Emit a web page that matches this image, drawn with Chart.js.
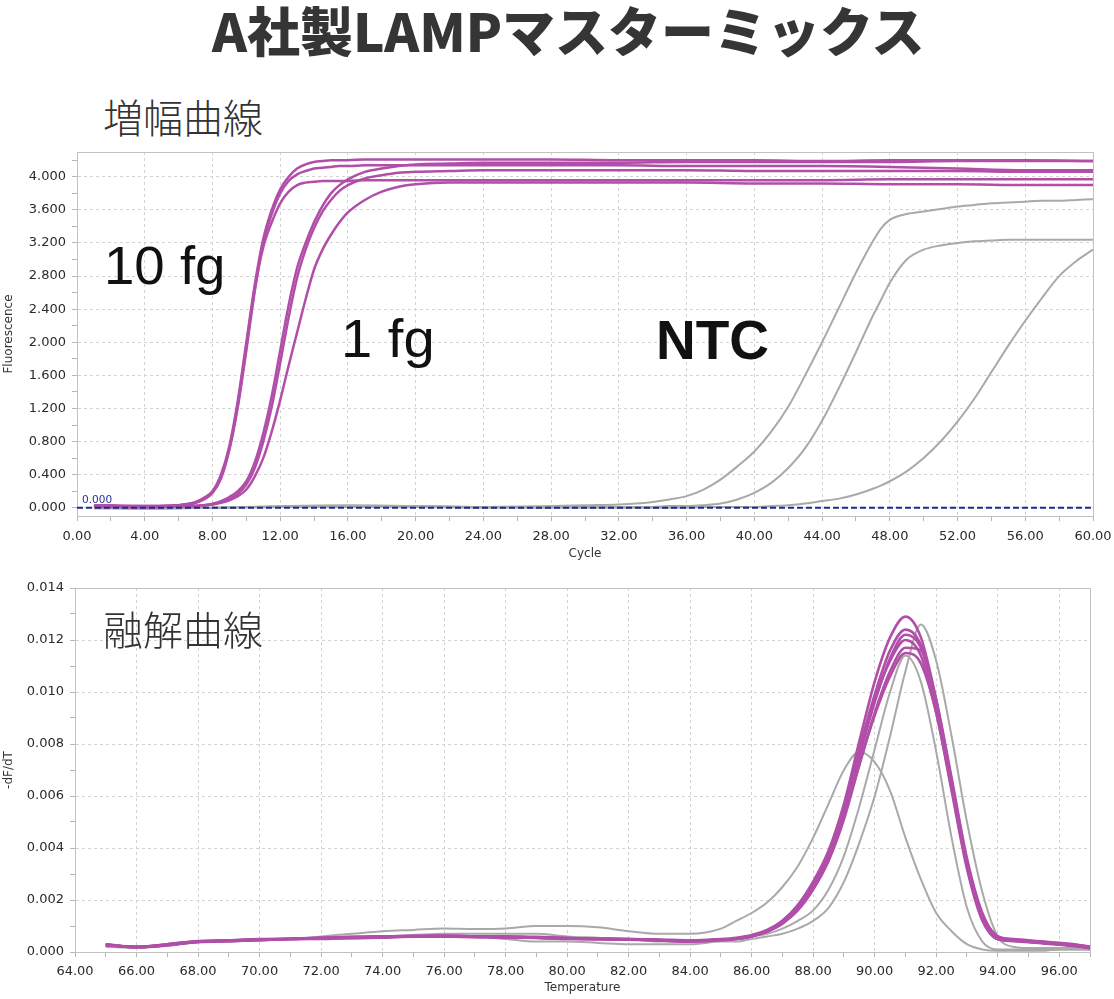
<!DOCTYPE html>
<html><head><meta charset="utf-8">
<script src="https://cdn.jsdelivr.net/npm/chart.js@4.4.1/dist/chart.umd.min.js"></script>
<style>
html,body{margin:0;padding:0;background:#fff;}
body{width:1114px;height:999px;position:relative;overflow:hidden;}
.t{position:absolute;white-space:nowrap;line-height:1;}
#title{left:212px;top:3px;font-family:"Noto Sans CJK JP";font-weight:900;font-size:53px;color:#353535;}
.sub{font-family:"Noto Sans CJK JP";font-weight:300;font-size:40px;color:#333;}
.big{font-family:"Liberation Sans",Arial,sans-serif;font-size:53px;color:#111;transform-origin:0 0;}
.box{position:absolute;left:0;width:1114px;}
#thr{left:82px;top:494px;font-family:"DejaVu Sans";font-size:10.5px;color:#25339a;}
</style></head><body>
<div class="t" id="title">A社製LAMPマスターミックス</div>
<div class="t sub" style="left:103px;top:96px;">増幅曲線</div>
<div class="box" style="top:140px;height:425px;"><canvas id="amp" width="1114" height="425"></canvas></div>
<div class="box" style="top:575px;height:424px;"><canvas id="melt" width="1114" height="424"></canvas></div>
<div class="t sub" style="left:103px;top:608px;">融解曲線</div>
<div class="t big" style="left:104px;top:239px;transform:scaleX(1.03);">10 fg</div>
<div class="t big" style="left:341px;top:312px;transform:scaleX(1.06);">1 fg</div>
<div class="t big" style="left:656px;top:313px;font-weight:bold;font-size:55px;">NTC</div>
<div class="t" id="thr">0.000</div>
<script>
// ---------- amplification data ----------
const ampCycles = [1,2,3,4,5,6,7,7.5,8,8.5,9,9.5,10,10.5,11,11.5,12,12.5,13,13.5,14,14.5,15,15.5,16,17,18,19,20,22,24,28,32,36,40,44,48,52,56,60];
const fg10_a = [0.03,0.03,0.02,0.02,0.02,0.03,0.07,0.12,0.2,0.4,0.75,1.3,2.0,2.7,3.25,3.6,3.85,4.0,4.1,4.15,4.18,4.19,4.2,4.2,4.2,4.21,4.21,4.21,4.21,4.21,4.21,4.21,4.2,4.2,4.2,4.19,4.2,4.2,4.2,4.19];
const fg10_b = [0.02,0.02,0.02,0.01,0.02,0.03,0.06,0.1,0.18,0.35,0.7,1.22,1.9,2.62,3.2,3.55,3.8,3.95,4.03,4.07,4.1,4.11,4.12,4.13,4.13,4.14,4.14,4.14,4.14,4.14,4.14,4.14,4.14,4.13,4.13,4.13,4.12,4.1,4.08,4.08];
const fg10_c = [0.03,0.02,0.02,0.02,0.02,0.03,0.06,0.11,0.19,0.38,0.72,1.25,1.95,2.65,3.15,3.45,3.68,3.82,3.9,3.93,3.94,3.95,3.95,3.95,3.95,3.96,3.96,3.96,3.96,3.96,3.96,3.96,3.96,3.96,3.96,3.96,3.97,3.97,3.97,3.97];
const fg1_a = [0.02,0.02,0.01,0.01,0.01,0.02,0.02,0.03,0.05,0.08,0.13,0.2,0.32,0.55,0.9,1.35,1.9,2.45,2.9,3.2,3.45,3.65,3.8,3.9,3.97,4.06,4.1,4.13,4.15,4.16,4.17,4.17,4.17,4.18,4.18,4.18,4.18,4.19,4.19,4.19];
const fg1_b = [0.01,0.01,0.01,0.01,0.01,0.02,0.02,0.03,0.04,0.07,0.11,0.17,0.28,0.48,0.8,1.22,1.75,2.3,2.78,3.12,3.38,3.58,3.72,3.83,3.9,3.98,4.02,4.05,4.06,4.07,4.08,4.08,4.08,4.08,4.07,4.07,4.07,4.07,4.06,4.06];
const fg1_c = [0.02,0.02,0.01,0.01,0.01,0.02,0.02,0.03,0.04,0.06,0.09,0.14,0.22,0.38,0.6,0.92,1.3,1.72,2.12,2.52,2.88,3.12,3.3,3.45,3.57,3.72,3.82,3.88,3.91,3.93,3.93,3.93,3.93,3.93,3.92,3.92,3.91,3.91,3.9,3.9];

const ntcCycles = [1,4,8,12,16,20,24,28,30,32,33,34,35,36,37,38,39,40,41,42,43,44,45,46,47,47.5,48,49,50,51,52,53,54,55,56,57,58,59,60];
const ntc_1 = [0.0,-0.01,0.0,0.02,0.03,0.02,0.01,0.02,0.03,0.04,0.05,0.07,0.1,0.14,0.22,0.34,0.5,0.68,0.92,1.22,1.6,2.0,2.42,2.84,3.22,3.38,3.48,3.55,3.58,3.61,3.64,3.66,3.68,3.69,3.7,3.71,3.71,3.72,3.73];
const ntc_2 = [-0.01,-0.01,0.0,0.01,0.02,0.02,0.01,0.01,0.01,0.01,0.01,0.01,0.02,0.02,0.03,0.05,0.1,0.18,0.3,0.48,0.72,1.05,1.45,1.88,2.32,2.52,2.72,3.0,3.12,3.17,3.2,3.22,3.23,3.24,3.24,3.24,3.24,3.24,3.24];
const ntc_3 = [0.0,-0.01,0.0,0.01,0.01,0.01,0.0,0.0,0.0,0.0,0.0,0.0,0.0,0.0,0.01,0.01,0.01,0.01,0.02,0.03,0.05,0.08,0.11,0.16,0.23,0.27,0.32,0.44,0.6,0.8,1.04,1.32,1.64,1.96,2.26,2.54,2.8,2.98,3.12];

const thresholdCycles = [0, 60];
const thresholdValues = [0, 0];

const ampXTicks = [0,4,8,12,16,20,24,28,32,36,40,44,48,52,56,60];
const ampYTicks = [0,0.4,0.8,1.2,1.6,2.0,2.4,2.8,3.2,3.6,4.0];

// ---------- melt data ----------
const meltTemps = [65,66,67,68,69,70,71,72,73,74,75,76,77,78,79,80,81,82,83,84,85,85.5,86,86.5,87,87.5,88,88.5,89,89.5,90,90.5,91,91.5,92,92.5,93,93.5,94,94.5,95,95.5,96,96.5,97];
const mag_1 = [0.0003,0.00018,0.00025,0.0004,0.00042,0.00045,0.0005,0.0005,0.00055,0.00055,0.0006,0.0006,0.00058,0.00055,0.00055,0.0005,0.0005,0.0005,0.00045,0.0004,0.00045,0.0005,0.0006,0.0008,0.0012,0.0018,0.0027,0.0039,0.0057,0.0081,0.0104,0.0121,0.0129,0.0121,0.0097,0.0065,0.0034,0.0013,0.0005,0.00045,0.0004,0.00035,0.0003,0.00025,0.00015];
const mag_2 = [0.00025,0.0002,0.0003,0.00042,0.00045,0.0005,0.0005,0.00055,0.00055,0.0006,0.0006,0.00062,0.0006,0.0006,0.00058,0.00055,0.0005,0.0005,0.00048,0.00045,0.0005,0.00055,0.00065,0.00085,0.0012,0.0018,0.0027,0.0038,0.0055,0.0078,0.0099,0.0116,0.0124,0.0118,0.0095,0.0064,0.0034,0.0013,0.0005,0.00045,0.0004,0.00035,0.0003,0.00025,0.0002];
const mag_3 = [0.0003,0.0002,0.00028,0.0004,0.00043,0.00048,0.00052,0.00055,0.00058,0.0006,0.00062,0.0006,0.00058,0.00058,0.00055,0.00052,0.0005,0.00048,0.00045,0.00042,0.00048,0.00052,0.00062,0.0008,0.0011,0.0017,0.0025,0.0036,0.0053,0.0075,0.0096,0.0113,0.0122,0.0117,0.0096,0.0066,0.0035,0.0014,0.0006,0.0005,0.00045,0.0004,0.00035,0.0003,0.0002];
const mag_4 = [0.00028,0.00018,0.00026,0.00038,0.00042,0.00046,0.0005,0.00053,0.00056,0.00058,0.0006,0.00061,0.00059,0.00056,0.00054,0.00052,0.00049,0.00047,0.00044,0.00041,0.00046,0.0005,0.0006,0.0008,0.00115,0.0018,0.0026,0.0038,0.0055,0.0077,0.0097,0.0112,0.012,0.0114,0.0092,0.0062,0.0032,0.0012,0.0005,0.00042,0.00038,0.00033,0.00028,0.00022,0.00015];
const mag_5 = [0.00026,0.0002,0.0003,0.00041,0.00044,0.00047,0.00051,0.00054,0.00057,0.00059,0.00061,0.00063,0.0006,0.00057,0.00056,0.00053,0.00051,0.00049,0.00046,0.00043,0.00047,0.00051,0.00061,0.00078,0.0011,0.0016,0.0024,0.0035,0.0051,0.0072,0.0092,0.0108,0.0117,0.0116,0.0097,0.0067,0.0036,0.0015,0.0006,0.00048,0.00043,0.00038,0.00032,0.00026,0.00018];
const mag_6 = [0.00029,0.00019,0.00027,0.00039,0.00043,0.00046,0.00049,0.00052,0.00055,0.00057,0.00059,0.0006,0.00058,0.00057,0.00055,0.00051,0.0005,0.00048,0.00046,0.00043,0.00047,0.00052,0.00062,0.0008,0.0011,0.0017,0.0025,0.0036,0.0052,0.0072,0.0091,0.0106,0.0115,0.0111,0.0092,0.0063,0.0033,0.0013,0.0005,0.00044,0.0004,0.00035,0.0003,0.00024,0.00017];
const ntcMelt_1 = [0.0002,0.00015,0.0003,0.0004,0.00045,0.0005,0.0005,0.0006,0.0007,0.0008,0.00085,0.0009,0.00088,0.0009,0.001,0.001,0.00095,0.0008,0.0007,0.0007,0.0009,0.0012,0.0015,0.0019,0.0025,0.0033,0.0044,0.0057,0.007,0.0077,0.0073,0.0062,0.0044,0.0028,0.0015,0.0008,0.0003,0.0001,0.00005,0.00005,0.00005,0.00005,0.0001,0.0001,0.0001];
const ntcMelt_2 = [0.0002,0.0002,0.0003,0.0004,0.0004,0.00045,0.0005,0.0005,0.0005,0.00055,0.0006,0.0006,0.0006,0.0005,0.0004,0.0004,0.00035,0.0003,0.0003,0.0003,0.0004,0.0004,0.0005,0.0006,0.0007,0.0009,0.0012,0.0017,0.0027,0.0042,0.006,0.0083,0.0108,0.0126,0.0112,0.0083,0.005,0.0023,0.0006,0.0002,0.00015,0.00015,0.00015,0.00015,0.0002];
const ntcMelt_3 = [0.00025,0.0002,0.0003,0.0004,0.00045,0.0005,0.0005,0.00055,0.0006,0.0006,0.00065,0.0007,0.0007,0.0007,0.0007,0.0006,0.00055,0.0005,0.0004,0.0004,0.0005,0.0005,0.0006,0.0007,0.0009,0.0012,0.0016,0.0024,0.0037,0.0056,0.0078,0.01,0.0114,0.0104,0.0077,0.0044,0.0017,0.0004,0.0001,0.0001,0.0001,0.0001,0.0001,0.0001,0.0001];

const meltXTicks = [64,66,68,70,72,74,76,78,80,82,84,86,88,90,92,94,96];
const meltYTicks = [0,0.002,0.004,0.006,0.008,0.010,0.012,0.014];

// ---------- styling helpers ----------
const MAG = '#b14ea8', GRAY = '#a9a9a9', NAVY = '#1d2b8c';
const GRID = '#d3d3d3', FRAME = '#c2c2c2', TICKC = '#b5b5b5', LABEL = '#2a2a2a';
const TICKFONT = {family: 'DejaVu Sans', size: 13};
const TITLEFONT = {family: 'DejaVu Sans', size: 12};

function pts(xs, ys){ return xs.map((x,i)=>({x:x, y:ys[i]})); }
function withMinors(majors){
  const out = [];
  for (let i=0;i<majors.length;i++){
    out.push(majors[i]);
    if (i<majors.length-1) out.push((majors[i]+majors[i+1])/2);
  }
  return out;
}
function isIn(v, arr){ return arr.some(a=>Math.abs(a-v)<1e-9); }
function axis(majors, extraMinors, fmt, min, max, size, isX, title, pad){
  const all = withMinors(majors).concat(extraMinors);
  return {
    type: 'linear', min: min, max: max,
    afterBuildTicks: (s)=>{ s.ticks = all.map(v=>({value:v})); },
    afterFit: (s)=>{
      if (isX) { s.height = size; s.paddingLeft = 0; s.paddingRight = 0; }
      else { s.width = size; s.paddingTop = 0; s.paddingBottom = 0; }
    },
    ticks: {
      autoSkip: false, maxRotation: 0, minRotation: 0, padding: pad, color: LABEL, font: TICKFONT,
      callback: (v)=> isIn(v, majors) ? Number(v).toFixed(fmt) : ''
    },
    grid: {
      drawTicks: true, tickLength: 5, tickColor: TICKC, tickBorderDash: [],
      color: (c)=> (c.tick && isIn(c.tick.value, majors)) ? GRID : 'rgba(0,0,0,0)',
      lineWidth: 1
    },
    border: {display: true, color: FRAME, width: 1, dash: [3,3]},
    title: {display: true, text: title, color: '#333', font: TITLEFONT, padding: {top: 2, bottom: 4}}
  };
}
const framePlugin = {
  id: 'frame',
  beforeDatasetsDraw(chart){
    const a = chart.chartArea, ctx = chart.ctx;
    ctx.save(); ctx.strokeStyle = FRAME; ctx.lineWidth = 1; ctx.setLineDash([]);
    ctx.strokeRect(Math.round(a.left)+0.5, Math.round(a.top)+0.5, Math.round(a.right-a.left), Math.round(a.bottom-a.top));
    ctx.restore();
  }
};
function line(data, color, w, extra){
  return Object.assign({data: data, borderColor: color, borderWidth: w, pointRadius: 0, fill: false,
    cubicInterpolationMode: 'monotone', tension: 0.4}, extra||{});
}

// ---------- amplification chart ----------
new Chart(document.getElementById('amp'), {
  type: 'line',
  data: { datasets: [
    line(pts(thresholdCycles, thresholdValues), NAVY, 2, {borderDash: [6,3], cubicInterpolationMode: 'default', tension: 0}),
    line(pts(ampCycles, fg10_a), MAG, 2.5),
    line(pts(ampCycles, fg10_b), MAG, 2.5),
    line(pts(ampCycles, fg10_c), MAG, 2.5),
    line(pts(ampCycles, fg1_a), MAG, 2.5),
    line(pts(ampCycles, fg1_b), MAG, 2.5),
    line(pts(ampCycles, fg1_c), MAG, 2.5),
    line(pts(ntcCycles, ntc_1), GRAY, 2),
    line(pts(ntcCycles, ntc_2), GRAY, 2),
    line(pts(ntcCycles, ntc_3), GRAY, 2)
  ]},
  options: {
    responsive: false, animation: false, devicePixelRatio: 1,
    layout: {padding: {top: 12, right: 21, left: 0, bottom: 0}},
    plugins: {legend: {display: false}, tooltip: {enabled: false}},
    scales: {
      x: axis(ampXTicks, [], 2, 0, 60, 49, true, 'Cycle', 8),
      y: axis(ampYTicks, [4.2], 3, -0.1, 4.3, 77, false, 'Fluorescence', 6)
    }
  },
  plugins: [framePlugin]
});

// ---------- melt chart ----------
new Chart(document.getElementById('melt'), {
  type: 'line',
  data: { datasets: [
    line(pts(meltTemps, mag_1), MAG, 2.6),
    line(pts(meltTemps, mag_2), MAG, 2.6),
    line(pts(meltTemps, mag_3), MAG, 2.6),
    line(pts(meltTemps, mag_4), MAG, 2.6),
    line(pts(meltTemps, mag_5), MAG, 2.6),
    line(pts(meltTemps, mag_6), MAG, 2.6),
    line(pts(meltTemps, ntcMelt_1), GRAY, 2),
    line(pts(meltTemps, ntcMelt_2), GRAY, 2),
    line(pts(meltTemps, ntcMelt_3), GRAY, 2)
  ]},
  options: {
    responsive: false, animation: false, devicePixelRatio: 1,
    layout: {padding: {top: 13, right: 24, left: 0, bottom: 0}},
    plugins: {legend: {display: false}, tooltip: {enabled: false}},
    scales: {
      x: axis(meltXTicks, [97], 2, 64, 97, 47, true, 'Temperature', 7),
      y: axis(meltYTicks, [], 3, 0, 0.014, 75, false, '-dF/dT', 6)
    }
  },
  plugins: [framePlugin]
});
</script>
</body></html>
